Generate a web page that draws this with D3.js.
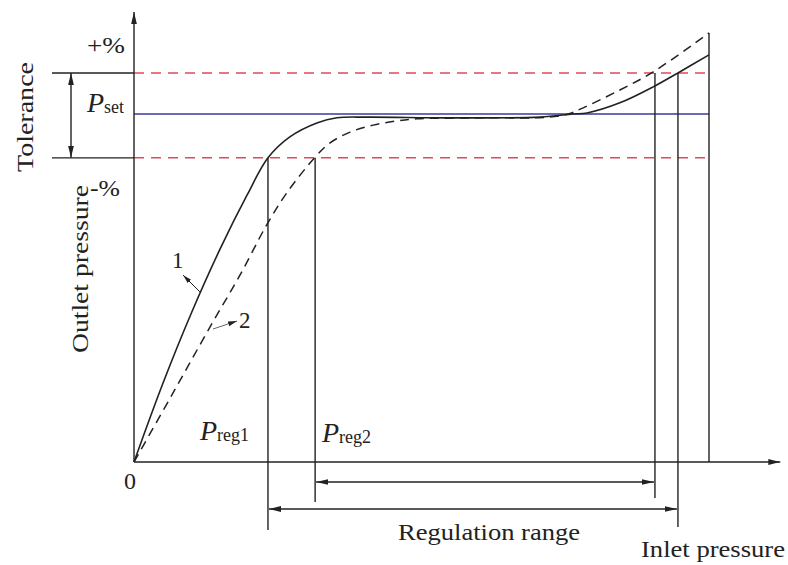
<!DOCTYPE html>
<html>
<head>
<meta charset="utf-8">
<script src="https://cdn.jsdelivr.net/npm/d3@7"></script>
<style>
  body { margin: 0; background: #fff; }
  svg text { font-family: "Liberation Serif", "Times New Roman", serif; fill: #222; }
</style>
</head>
<body>
<svg id="chart" width="788" height="565"></svg>
<script>
// x: inlet pressure (% of max), y: outlet pressure (% of P_set)
var setPoint = 100;
var tolUpper = 111.8;
var tolLower = 87.4;
var inletMax = 100;

// curve 1 (solid) and curve 2 (dashed)
var curve1 = [[0,0],[5,22.5],[10,42.9],[15,61.3],[19.7,76.8],[23.3,87.4],[27.1,93.4],
  [31.8,97.4],[35.3,98.9],[40.5,99.1],[55,98.9],[70.6,99.1],[76.3,100],[78.8,100.3],
  [84.5,103.2],[90.3,107.8],[94.6,111.8],[100,117]];
var curve2 = [[0,0],[6.5,19],[13.6,39.9],[18.4,53.6],[23.1,68.2],[26.6,77.4],[31.5,87.6],
  [34.1,91.7],[37.6,94.8],[41.6,96.8],[45.7,98],[49.2,98.6],[60.2,98.9],[72.3,99.1],
  [75.5,100],[77.6,101.4],[84.5,106.9],[90.3,112.1],[100,123.3]];

// regulation range limits for each curve
var regRange1 = [23.3, 94.6];
var regRange2 = [31.5, 90.6];

var svg = d3.select("#chart");
var x = d3.scaleLinear().domain([0, 100]).range([134, 709]);
var y = d3.scaleLinear().domain([0, 100]).range([462, 114]);
var ink = "#222";

var defs = svg.append("defs");
defs.append("marker")
    .attr("id", "arr")
    .attr("viewBox", "0 0 10 10")
    .attr("refX", 10).attr("refY", 5)
    .attr("markerWidth", 12).attr("markerHeight", 12)
    .attr("markerUnits", "userSpaceOnUse")
    .attr("orient", "auto-start-reverse")
    .append("path").attr("d", "M0,2.6L10,5L0,7.4Z").attr("fill", ink);
defs.append("marker")
    .attr("id", "arrS")
    .attr("viewBox", "0 0 10 10")
    .attr("refX", 10).attr("refY", 5)
    .attr("markerWidth", 9).attr("markerHeight", 9)
    .attr("markerUnits", "userSpaceOnUse")
    .attr("orient", "auto")
    .append("path").attr("d", "M0,2.3L10,5L0,7.7Z").attr("fill", ink);

function line(x1, y1, x2, y2) {
    return svg.append("line")
        .attr("x1", x1).attr("y1", y1).attr("x2", x2).attr("y2", y2)
        .attr("stroke", ink).attr("stroke-width", 1.4);
}

// tolerance band + set point
[tolUpper, tolLower].forEach(function(t) {
    line(x(0), y(t), x(inletMax), y(t))
        .attr("stroke", "#e2485a").attr("stroke-width", 1.5)
        .attr("stroke-dasharray", "10,7");
    line(52, y(t), x(0), y(t));
});
line(x(0), y(setPoint), x(inletMax), y(setPoint))
    .attr("stroke", "#3b3b9c").attr("stroke-width", 1.5);
line(71, y(tolUpper), 71, y(tolLower))
    .attr("marker-start", "url(#arr)").attr("marker-end", "url(#arr)");

// axes
line(x(0), y(0), x(112.4), y(0)).attr("marker-end", "url(#arr)");
line(x(0), y(0), x(0), y(129.3)).attr("marker-end", "url(#arr)");

// regulation limits
line(x(regRange1[0]), y(tolLower), x(regRange1[0]), y(0) + 68);
line(x(regRange2[0]), y(tolLower), x(regRange2[0]), y(0) + 40);
line(x(regRange2[1]), y(tolUpper), x(regRange2[1]), y(0) + 36);
line(x(regRange1[1]), y(tolUpper), x(regRange1[1]), y(0) + 65);
line(x(inletMax), y(0), x(inletMax), y(123.3));

line(x(regRange2[0]) + 1, y(0) + 20, x(regRange2[1]) - 1, y(0) + 20)
    .attr("marker-start", "url(#arr)").attr("marker-end", "url(#arr)");
line(x(regRange1[0]) + 1, y(0) + 47, x(regRange1[1]) - 1, y(0) + 47)
    .attr("marker-start", "url(#arr)").attr("marker-end", "url(#arr)");

// curves
var path = d3.line()
    .x(function(d) { return x(d[0]); })
    .y(function(d) { return y(d[1]); })
    .curve(d3.curveCatmullRom.alpha(0.5));

svg.append("path").datum(curve1).attr("d", path)
    .attr("fill", "none").attr("stroke", ink).attr("stroke-width", 1.6);
svg.append("path").datum(curve2).attr("d", path)
    .attr("fill", "none").attr("stroke", ink).attr("stroke-width", 1.5)
    .attr("stroke-dasharray", "9,6");

// curve labels
line(200, 292, 183, 275).attr("stroke-width", 1).attr("marker-end", "url(#arrS)");
line(213, 329, 237, 321).attr("stroke-width", 0.9).attr("stroke", "#555")
    .attr("marker-end", "url(#arrS)");

function label(txt, px, py, size, len) {
    var t = svg.append("text").attr("x", px).attr("y", py)
        .attr("font-size", size).text(txt);
    if (len) t.attr("textLength", len).attr("lengthAdjust", "spacingAndGlyphs");
    return t;
}
label("1", 172, 268, 23);
label("2", 239, 328, 23);
label("0", 124, 489, 24);
label("+%", 87, 53, 23, 38);
label("-%", 90, 196, 23, 30);
label("Regulation range", 398, 540, 24, 182);
label("Inlet pressure", 641, 557, 24, 144);

svg.append("text")
    .attr("transform", "translate(33,117) rotate(-90)")
    .attr("text-anchor", "middle").attr("font-size", 24)
    .attr("textLength", 110).attr("lengthAdjust", "spacingAndGlyphs")
    .text("Tolerance");
svg.append("text")
    .attr("transform", "translate(88,269) rotate(-90)")
    .attr("text-anchor", "middle").attr("font-size", 24)
    .attr("textLength", 168).attr("lengthAdjust", "spacingAndGlyphs")
    .text("Outlet pressure");

function pLabel(sub, px, py) {
    var t = svg.append("text").attr("x", px).attr("y", py);
    t.append("tspan").attr("font-size", 28).attr("font-style", "italic").text("P");
    t.append("tspan").attr("font-size", 18).attr("dy", 1).text(sub);
    return t;
}
pLabel("set", 87, y(setPoint) - 2);
pLabel("reg1", 200, 440);
pLabel("reg2", 322, 442);
</script>
</body>
</html>
